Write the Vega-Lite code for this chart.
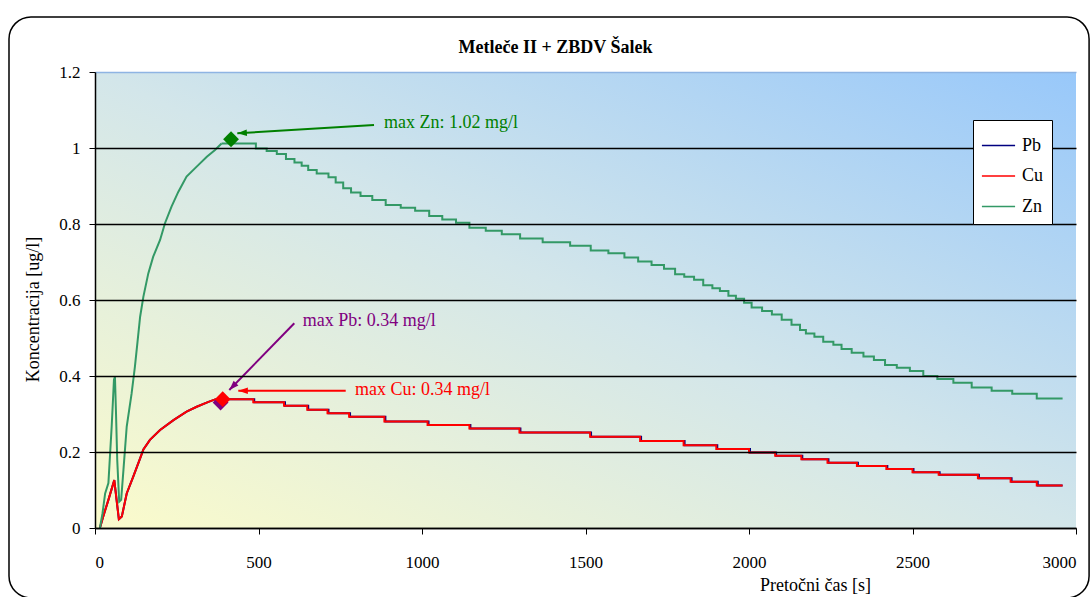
{
  "$schema": "https://vega.github.io/schema/vega-lite/v6.json",
  "width": 981,
  "height": 456,
  "autosize": {"type": "none"},
  "padding": {"left": 95, "top": 72, "right": 15, "bottom": 69},
  "background": "white",
  "title": {"text": "Metleče II + ZBDV Šalek", "font": "Liberation Serif", "fontSize": 18, "fontWeight": "bold", "color": "black", "dx": -30, "offset": -41},
  "config": {
    "font": "Liberation Serif",
    "view": {"stroke": null},
    "axis": {"labelFont": "Liberation Serif", "titleFont": "Liberation Serif", "labelColor": "black", "titleColor": "black", "domainColor": "black", "tickColor": "black", "labelFontSize": 17, "titleFontSize": 18, "titleFontWeight": "normal", "domainWidth": 1.5, "tickWidth": 1, "tickSize": 6, "zindex": 1}
  },
  "datasets": {
    "one": [{}],
    "lines": [
      {"m": "Pb", "k": "r", "t": 15, "v": 0}, {"m": "Pb", "k": "r", "t": 25, "v": 0.03}, {"m": "Pb", "k": "r", "t": 41, "v": 0.074}, {"m": "Pb", "k": "r", "t": 59, "v": 0.126}, {"m": "Pb", "k": "r", "t": 66, "v": 0.074}, {"m": "Pb", "k": "r", "t": 73, "v": 0.023}, {"m": "Pb", "k": "r", "t": 82, "v": 0.03}, {"m": "Pb", "k": "r", "t": 97, "v": 0.091}, {"m": "Pb", "k": "r", "t": 117, "v": 0.135}, {"m": "Pb", "k": "r", "t": 138, "v": 0.183}, {"m": "Pb", "k": "r", "t": 148, "v": 0.207}, {"m": "Pb", "k": "r", "t": 168, "v": 0.232}, {"m": "Pb", "k": "r", "t": 199, "v": 0.258}, {"m": "Pb", "k": "r", "t": 240, "v": 0.284}, {"m": "Pb", "k": "r", "t": 280, "v": 0.306}, {"m": "Pb", "k": "r", "t": 311, "v": 0.319}, {"m": "Pb", "k": "r", "t": 347, "v": 0.332}, {"m": "Pb", "k": "r", "t": 370, "v": 0.339},
      {"m": "Pb", "k": "s", "t": 370, "v": 0.339}, {"m": "Pb", "k": "s", "t": 487, "v": 0.331}, {"m": "Pb", "k": "s", "t": 581, "v": 0.322}, {"m": "Pb", "k": "s", "t": 652, "v": 0.311}, {"m": "Pb", "k": "s", "t": 714, "v": 0.302}, {"m": "Pb", "k": "s", "t": 780, "v": 0.293}, {"m": "Pb", "k": "s", "t": 888, "v": 0.28}, {"m": "Pb", "k": "s", "t": 1020, "v": 0.271}, {"m": "Pb", "k": "s", "t": 1148, "v": 0.262}, {"m": "Pb", "k": "s", "t": 1301, "v": 0.251}, {"m": "Pb", "k": "s", "t": 1517, "v": 0.24}, {"m": "Pb", "k": "s", "t": 1670, "v": 0.229}, {"m": "Pb", "k": "s", "t": 1803, "v": 0.218}, {"m": "Pb", "k": "s", "t": 1903, "v": 0.208}, {"m": "Pb", "k": "s", "t": 2003, "v": 0.199}, {"m": "Pb", "k": "s", "t": 2083, "v": 0.19}, {"m": "Pb", "k": "s", "t": 2163, "v": 0.181}, {"m": "Pb", "k": "s", "t": 2243, "v": 0.172}, {"m": "Pb", "k": "s", "t": 2333, "v": 0.163}, {"m": "Pb", "k": "s", "t": 2423, "v": 0.155}, {"m": "Pb", "k": "s", "t": 2503, "v": 0.147}, {"m": "Pb", "k": "s", "t": 2583, "v": 0.14}, {"m": "Pb", "k": "s", "t": 2703, "v": 0.131}, {"m": "Pb", "k": "s", "t": 2803, "v": 0.122}, {"m": "Pb", "k": "s", "t": 2883, "v": 0.112}, {"m": "Pb", "k": "s", "t": 2959, "v": 0.112},
      {"m": "Cu", "k": "r", "t": 15, "v": 0}, {"m": "Cu", "k": "r", "t": 25, "v": 0.03}, {"m": "Cu", "k": "r", "t": 41, "v": 0.074}, {"m": "Cu", "k": "r", "t": 59, "v": 0.126}, {"m": "Cu", "k": "r", "t": 66, "v": 0.074}, {"m": "Cu", "k": "r", "t": 73, "v": 0.023}, {"m": "Cu", "k": "r", "t": 82, "v": 0.03}, {"m": "Cu", "k": "r", "t": 97, "v": 0.091}, {"m": "Cu", "k": "r", "t": 117, "v": 0.135}, {"m": "Cu", "k": "r", "t": 138, "v": 0.183}, {"m": "Cu", "k": "r", "t": 148, "v": 0.207}, {"m": "Cu", "k": "r", "t": 168, "v": 0.232}, {"m": "Cu", "k": "r", "t": 199, "v": 0.258}, {"m": "Cu", "k": "r", "t": 240, "v": 0.284}, {"m": "Cu", "k": "r", "t": 280, "v": 0.306}, {"m": "Cu", "k": "r", "t": 311, "v": 0.319}, {"m": "Cu", "k": "r", "t": 347, "v": 0.332}, {"m": "Cu", "k": "r", "t": 370, "v": 0.339},
      {"m": "Cu", "k": "s", "t": 370, "v": 0.339}, {"m": "Cu", "k": "s", "t": 484, "v": 0.331}, {"m": "Cu", "k": "s", "t": 578, "v": 0.322}, {"m": "Cu", "k": "s", "t": 649, "v": 0.311}, {"m": "Cu", "k": "s", "t": 711, "v": 0.302}, {"m": "Cu", "k": "s", "t": 777, "v": 0.293}, {"m": "Cu", "k": "s", "t": 885, "v": 0.28}, {"m": "Cu", "k": "s", "t": 1017, "v": 0.271}, {"m": "Cu", "k": "s", "t": 1145, "v": 0.262}, {"m": "Cu", "k": "s", "t": 1298, "v": 0.251}, {"m": "Cu", "k": "s", "t": 1514, "v": 0.24}, {"m": "Cu", "k": "s", "t": 1667, "v": 0.229}, {"m": "Cu", "k": "s", "t": 1800, "v": 0.218}, {"m": "Cu", "k": "s", "t": 1900, "v": 0.208}, {"m": "Cu", "k": "s", "t": 2000, "v": 0.199}, {"m": "Cu", "k": "s", "t": 2080, "v": 0.19}, {"m": "Cu", "k": "s", "t": 2160, "v": 0.181}, {"m": "Cu", "k": "s", "t": 2240, "v": 0.172}, {"m": "Cu", "k": "s", "t": 2330, "v": 0.163}, {"m": "Cu", "k": "s", "t": 2420, "v": 0.155}, {"m": "Cu", "k": "s", "t": 2500, "v": 0.147}, {"m": "Cu", "k": "s", "t": 2580, "v": 0.14}, {"m": "Cu", "k": "s", "t": 2700, "v": 0.131}, {"m": "Cu", "k": "s", "t": 2800, "v": 0.122}, {"m": "Cu", "k": "s", "t": 2880, "v": 0.112}, {"m": "Cu", "k": "s", "t": 2959, "v": 0.112},
      {"m": "Zn", "k": "r", "t": 15, "v": 0}, {"m": "Zn", "k": "r", "t": 23, "v": 0.039}, {"m": "Zn", "k": "r", "t": 31, "v": 0.091}, {"m": "Zn", "k": "r", "t": 41, "v": 0.118}, {"m": "Zn", "k": "r", "t": 51, "v": 0.267}, {"m": "Zn", "k": "r", "t": 58, "v": 0.39}, {"m": "Zn", "k": "r", "t": 61, "v": 0.398}, {"m": "Zn", "k": "r", "t": 64, "v": 0.31}, {"m": "Zn", "k": "r", "t": 68, "v": 0.179}, {"m": "Zn", "k": "r", "t": 74, "v": 0.069}, {"m": "Zn", "k": "r", "t": 80, "v": 0.074}, {"m": "Zn", "k": "r", "t": 87, "v": 0.153}, {"m": "Zn", "k": "r", "t": 97, "v": 0.267}, {"m": "Zn", "k": "r", "t": 112, "v": 0.354}, {"m": "Zn", "k": "r", "t": 122, "v": 0.424}, {"m": "Zn", "k": "r", "t": 130, "v": 0.49}, {"m": "Zn", "k": "r", "t": 138, "v": 0.556}, {"m": "Zn", "k": "r", "t": 148, "v": 0.609}, {"m": "Zn", "k": "r", "t": 163, "v": 0.67}, {"m": "Zn", "k": "r", "t": 178, "v": 0.714}, {"m": "Zn", "k": "r", "t": 199, "v": 0.758}, {"m": "Zn", "k": "r", "t": 214, "v": 0.802}, {"m": "Zn", "k": "r", "t": 234, "v": 0.846}, {"m": "Zn", "k": "r", "t": 255, "v": 0.885}, {"m": "Zn", "k": "r", "t": 280, "v": 0.925}, {"m": "Zn", "k": "r", "t": 311, "v": 0.951}, {"m": "Zn", "k": "r", "t": 342, "v": 0.977}, {"m": "Zn", "k": "r", "t": 367, "v": 0.995}, {"m": "Zn", "k": "r", "t": 387, "v": 1.012},
      {"m": "Zn", "k": "s", "t": 387, "v": 1.012}, {"m": "Zn", "k": "s", "t": 492, "v": 0.999}, {"m": "Zn", "k": "s", "t": 525, "v": 0.992}, {"m": "Zn", "k": "s", "t": 556, "v": 0.984}, {"m": "Zn", "k": "s", "t": 584, "v": 0.971}, {"m": "Zn", "k": "s", "t": 610, "v": 0.962}, {"m": "Zn", "k": "s", "t": 632, "v": 0.953}, {"m": "Zn", "k": "s", "t": 652, "v": 0.942}, {"m": "Zn", "k": "s", "t": 678, "v": 0.933}, {"m": "Zn", "k": "s", "t": 714, "v": 0.923}, {"m": "Zn", "k": "s", "t": 736, "v": 0.909}, {"m": "Zn", "k": "s", "t": 759, "v": 0.894}, {"m": "Zn", "k": "s", "t": 783, "v": 0.883}, {"m": "Zn", "k": "s", "t": 812, "v": 0.874}, {"m": "Zn", "k": "s", "t": 848, "v": 0.863}, {"m": "Zn", "k": "s", "t": 889, "v": 0.85}, {"m": "Zn", "k": "s", "t": 935, "v": 0.843}, {"m": "Zn", "k": "s", "t": 979, "v": 0.835}, {"m": "Zn", "k": "s", "t": 1022, "v": 0.821}, {"m": "Zn", "k": "s", "t": 1062, "v": 0.812}, {"m": "Zn", "k": "s", "t": 1104, "v": 0.803}, {"m": "Zn", "k": "s", "t": 1145, "v": 0.79}, {"m": "Zn", "k": "s", "t": 1195, "v": 0.782}, {"m": "Zn", "k": "s", "t": 1244, "v": 0.773}, {"m": "Zn", "k": "s", "t": 1300, "v": 0.762}, {"m": "Zn", "k": "s", "t": 1369, "v": 0.752}, {"m": "Zn", "k": "s", "t": 1453, "v": 0.743}, {"m": "Zn", "k": "s", "t": 1516, "v": 0.73}, {"m": "Zn", "k": "s", "t": 1570, "v": 0.723}, {"m": "Zn", "k": "s", "t": 1619, "v": 0.712}, {"m": "Zn", "k": "s", "t": 1661, "v": 0.701}, {"m": "Zn", "k": "s", "t": 1702, "v": 0.692}, {"m": "Zn", "k": "s", "t": 1740, "v": 0.682}, {"m": "Zn", "k": "s", "t": 1774, "v": 0.668}, {"m": "Zn", "k": "s", "t": 1802, "v": 0.661}, {"m": "Zn", "k": "s", "t": 1832, "v": 0.653}, {"m": "Zn", "k": "s", "t": 1860, "v": 0.639}, {"m": "Zn", "k": "s", "t": 1888, "v": 0.631}, {"m": "Zn", "k": "s", "t": 1911, "v": 0.624}, {"m": "Zn", "k": "s", "t": 1937, "v": 0.611}, {"m": "Zn", "k": "s", "t": 1960, "v": 0.603}, {"m": "Zn", "k": "s", "t": 1985, "v": 0.593}, {"m": "Zn", "k": "s", "t": 2008, "v": 0.58}, {"m": "Zn", "k": "s", "t": 2040, "v": 0.571}, {"m": "Zn", "k": "s", "t": 2070, "v": 0.562}, {"m": "Zn", "k": "s", "t": 2100, "v": 0.548}, {"m": "Zn", "k": "s", "t": 2130, "v": 0.535}, {"m": "Zn", "k": "s", "t": 2156, "v": 0.521}, {"m": "Zn", "k": "s", "t": 2174, "v": 0.512}, {"m": "Zn", "k": "s", "t": 2200, "v": 0.503}, {"m": "Zn", "k": "s", "t": 2227, "v": 0.49}, {"m": "Zn", "k": "s", "t": 2258, "v": 0.482}, {"m": "Zn", "k": "s", "t": 2283, "v": 0.471}, {"m": "Zn", "k": "s", "t": 2314, "v": 0.461}, {"m": "Zn", "k": "s", "t": 2350, "v": 0.451}, {"m": "Zn", "k": "s", "t": 2382, "v": 0.442}, {"m": "Zn", "k": "s", "t": 2416, "v": 0.429}, {"m": "Zn", "k": "s", "t": 2452, "v": 0.422}, {"m": "Zn", "k": "s", "t": 2492, "v": 0.413}, {"m": "Zn", "k": "s", "t": 2533, "v": 0.4}, {"m": "Zn", "k": "s", "t": 2576, "v": 0.392}, {"m": "Zn", "k": "s", "t": 2625, "v": 0.382}, {"m": "Zn", "k": "s", "t": 2681, "v": 0.37}, {"m": "Zn", "k": "s", "t": 2742, "v": 0.361}, {"m": "Zn", "k": "s", "t": 2805, "v": 0.353}, {"m": "Zn", "k": "s", "t": 2880, "v": 0.341}, {"m": "Zn", "k": "s", "t": 2959, "v": 0.341}
    ],
    "ann": [
      {"m": "Pb", "t": 384, "v": 0.33, "at": 609.5, "av": 0.5387, "tt": 410.7, "tv": 0.3632, "lt": 635.2, "lv": 0.5455, "a": 224.3, "label": "max Pb: 0.34 mg/l"},
      {"m": "Cu", "t": 390.5, "v": 0.339, "at": 766.7, "av": 0.3613, "tt": 438.2, "tv": 0.3613, "lt": 795, "lv": 0.363, "a": 270, "label": "max Cu: 0.34 mg/l"},
      {"m": "Zn", "t": 416, "v": 1.023, "at": 853.2, "av": 1.0605, "tt": 435.2, "tv": 1.0387, "lt": 883.8, "lv": 1.065, "a": 266.5, "label": "max Zn: 1.02 mg/l"}
    ]
  },
  "layer": [
    {
      "data": {"name": "one"},
      "mark": {"type": "rect", "fill": {"gradient": "linear", "x1": 0, "y1": 1, "x2": 1, "y2": 0, "stops": [{"offset": 0, "color": "#FBFBCB"}, {"offset": 0.5, "color": "#D3E6EA"}, {"offset": 1, "color": "#98C8FA"}]}},
      "encoding": {
        "x": {"datum": 0, "type": "quantitative", "scale": {"domain": [0, 3000], "nice": false, "zero": false},
          "axis": {"values": [0, 500, 1000, 1500, 2000, 2500, 3000], "format": "d", "title": "Pretočni čas [s]", "grid": false, "labelPadding": 20, "titleX": 720, "titleY": 57, "titleAlign": "center", "titleBaseline": "middle", "zindex": 1}},
        "x2": {"datum": 3000},
        "y": {"datum": 0, "type": "quantitative", "scale": {"domain": [0, 1.2], "nice": false, "zero": false},
          "axis": {"values": [0, 0.2, 0.4, 0.6, 0.8, 1, 1.2], "format": "~g", "title": "Koncentracija [ug/l]", "grid": true, "gridColor": {"condition": {"test": "datum.value >= 1.19", "value": "#8EB4E3"}, "value": "black"}, "gridWidth": 1.5, "gridOpacity": 1, "labelPadding": 9, "titleX": -62, "titleY": 237, "titleAlign": "center", "titleBaseline": "middle", "zindex": 1}},
        "y2": {"datum": 1.2}
      }
    },
    {
      "data": {"name": "one"},
      "mark": {"type": "rect", "fillOpacity": 0, "stroke": "black", "strokeWidth": 1.5, "cornerRadius": 22},
      "encoding": {
        "x": {"datum": -263, "type": "quantitative", "scale": {"domain": [0, 3000], "nice": false, "zero": false}},
        "x2": {"datum": 3040},
        "y": {"datum": 1.345, "type": "quantitative", "scale": {"domain": [0, 1.2], "nice": false, "zero": false}},
        "y2": {"datum": -0.184}
      }
    },
    {
      "layer": [
        {
          "data": {"name": "lines"},
          "transform": [{"filter": "datum.k === 'r'"}],
          "mark": {"type": "line", "interpolate": "linear", "strokeWidth": 2},
          "encoding": {
            "x": {"field": "t", "type": "quantitative", "scale": {"domain": [0, 3000], "nice": false, "zero": false}},
            "y": {"field": "v", "type": "quantitative", "scale": {"domain": [0, 1.2], "nice": false, "zero": false}},
            "color": {"field": "m", "type": "nominal", "scale": {"domain": ["Pb", "Cu", "Zn"], "range": ["#000080", "#FF0000", "#339966"]},
              "legend": {"title": null, "orient": "none", "legendX": 878, "legendY": 48, "zindex": 3, "fillColor": "white", "strokeColor": "black", "padding": 8, "symbolType": "stroke", "symbolSize": 1100, "symbolStrokeWidth": 1.5, "symbolOffset": 0, "labelOffset": 6, "labelFontSize": 18, "labelFont": "Liberation Serif", "labelColor": "black", "rowPadding": 3.5}}
          }
        },
        {
          "data": {"name": "lines"},
          "transform": [{"filter": "datum.k === 's'"}],
          "mark": {"type": "line", "interpolate": "step-after", "strokeWidth": 2},
          "encoding": {
            "x": {"field": "t", "type": "quantitative", "scale": {"domain": [0, 3000], "nice": false, "zero": false}},
            "y": {"field": "v", "type": "quantitative", "scale": {"domain": [0, 1.2], "nice": false, "zero": false}},
            "color": {"field": "m", "type": "nominal", "scale": {"domain": ["Pb", "Cu", "Zn"], "range": ["#000080", "#FF0000", "#339966"]},
              "legend": {"title": null, "orient": "none", "legendX": 878, "legendY": 48, "zindex": 3, "fillColor": "white", "strokeColor": "black", "padding": 8, "symbolType": "stroke", "symbolSize": 1100, "symbolStrokeWidth": 1.5, "symbolOffset": 0, "labelOffset": 6, "labelFontSize": 18, "labelFont": "Liberation Serif", "labelColor": "black", "rowPadding": 3.5}}
          }
        }
      ]
    },
    {
      "data": {"name": "ann"},
      "layer": [
        {
          "mark": {"type": "rule", "strokeWidth": 2},
          "encoding": {
            "x": {"field": "at", "type": "quantitative", "scale": {"domain": [0, 3000], "nice": false, "zero": false}},
            "y": {"field": "av", "type": "quantitative", "scale": {"domain": [0, 1.2], "nice": false, "zero": false}},
            "x2": {"field": "tt"},
            "y2": {"field": "tv"},
            "color": {"field": "m", "type": "nominal", "scale": {"domain": ["Pb", "Cu", "Zn"], "range": ["#800080", "#FF0000", "#008000"]}, "legend": null}
          }
        },
        {
          "mark": {"type": "point", "shape": "M0,0L0.55,1.6L-0.55,1.6Z", "filled": true, "opacity": 1, "size": 144},
          "encoding": {
            "x": {"field": "tt", "type": "quantitative", "scale": {"domain": [0, 3000], "nice": false, "zero": false}},
            "y": {"field": "tv", "type": "quantitative", "scale": {"domain": [0, 1.2], "nice": false, "zero": false}},
            "angle": {"field": "a", "type": "quantitative", "scale": null},
            "color": {"field": "m", "type": "nominal", "scale": {"domain": ["Pb", "Cu", "Zn"], "range": ["#800080", "#FF0000", "#008000"]}, "legend": null}
          }
        },
        {
          "mark": {"type": "point", "shape": "diamond", "filled": true, "opacity": 1, "size": 250},
          "encoding": {
            "x": {"field": "t", "type": "quantitative", "scale": {"domain": [0, 3000], "nice": false, "zero": false}},
            "y": {"field": "v", "type": "quantitative", "scale": {"domain": [0, 1.2], "nice": false, "zero": false}},
            "color": {"field": "m", "type": "nominal", "scale": {"domain": ["Pb", "Cu", "Zn"], "range": ["#800080", "#FF0000", "#008000"]}, "legend": null}
          }
        },
        {
          "mark": {"type": "text", "align": "left", "baseline": "middle", "fontSize": 18, "font": "Liberation Serif"},
          "encoding": {
            "x": {"field": "lt", "type": "quantitative", "scale": {"domain": [0, 3000], "nice": false, "zero": false}},
            "y": {"field": "lv", "type": "quantitative", "scale": {"domain": [0, 1.2], "nice": false, "zero": false}},
            "text": {"field": "label"},
            "color": {"field": "m", "type": "nominal", "scale": {"domain": ["Pb", "Cu", "Zn"], "range": ["#800080", "#FF0000", "#008000"]}, "legend": null}
          }
        }
      ]
    }
  ],
  "resolve": {"scale": {"color": "independent"}}
}
